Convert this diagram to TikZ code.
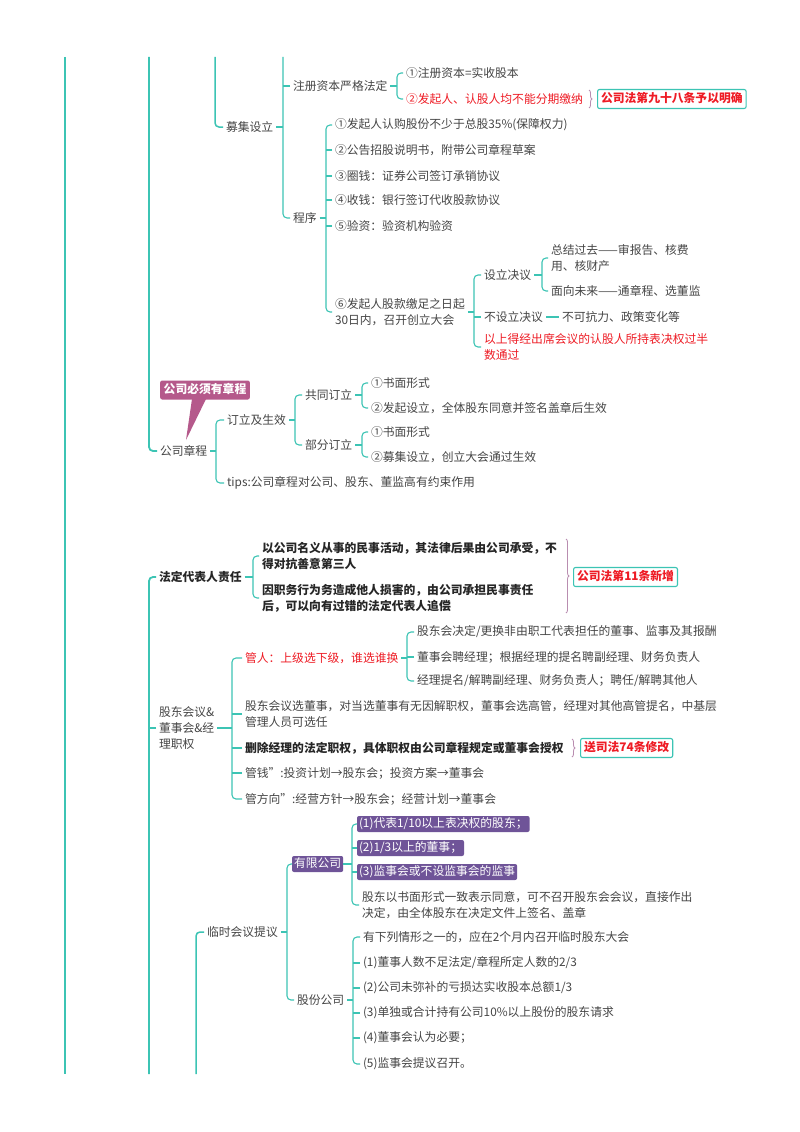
\documentclass[tikz,border=0pt]{standalone}
\usepackage{fontspec}
\setmainfont{Noto Sans CJK SC}
\definecolor{mapteal}{HTML}{3CC4B4}
\definecolor{mapink}{HTML}{454545}
\definecolor{mapred}{HTML}{EE1C25}
\definecolor{mappurple}{HTML}{6F5498}
\definecolor{mapmauve}{HTML}{B5598B}
\definecolor{mapbrace}{HTML}{B98DB0}
\usetikzlibrary{calc,decorations.pathreplacing}

\begin{document}
\begin{tikzpicture}[x=1pt,y=-1pt,
  topic/.style={anchor=west,inner sep=0pt,outer sep=3pt,align=left,text=mapink,font=\fontsize{11.8}{16}\selectfont},
  hot/.style={topic,text=mapred},
  strong/.style={topic,text=black!85,font=\fontsize{11.8}{16}\selectfont\bfseries},
  lawbox/.style={anchor=west,draw=mapteal,line width=1.1pt,rounded corners=2pt,fill=white,text=mapred,inner sep=3.5pt,text height=9.5pt,text depth=2.5pt,font=\fontsize{11.8}{16}\selectfont\bfseries},
  purplebox/.style={anchor=west,fill=mappurple,text=white,rounded corners=2pt,inner sep=2pt,outer sep=0pt,text height=9.5pt,text depth=2.5pt,font=\fontsize{11.8}{16}\selectfont},
  link/.style={draw=mapteal,line width=1.1pt,rounded corners=4pt},
  branch/.style={link,line width=1.5pt},
  trunk/.style={link,line width=1.8pt},
  rootline/.style={link,line width=2.2pt},
  sumbrace/.style={draw=mapbrace,line width=0.8pt,decorate,decoration={brace,amplitude=3pt}}]
\fill[white] (0,0) rectangle (800,1132);
\useasboundingbox (0,0) rectangle (800,1132);

\node[topic] (muji) at (223,127) {募集设立};
\node[topic] (zhuce) at (290,86) {注册资本严格法定};
\node[topic] (zhuce1) at (403,73) {①注册资本=实收股本};
\node[hot] (zhuce2) at (403,99) {②发起人、认股人均不能分期缴纳};
\node[lawbox] (law98) at (597,99) {公司法第九十八条予以明确};
\node[topic] (chengxu) at (290,218) {程序};
\node[topic] (cx1) at (332,125) {①发起人认购股份不少于总股35\%(保障权力)};
\node[topic] (cx2) at (332,150) {②公告招股说明书，附带公司章程草案};
\node[topic] (cx3) at (332,176) {③圈钱：证券公司签订承销协议};
\node[topic] (cx4) at (332,200) {④收钱：银行签订代收股款协议};
\node[topic] (cx5) at (332,226) {⑤验资：验资机构验资};
\node[topic] (cx6) at (332,312) {⑥发起人股款缴足之日起\\30日内，召开创立大会};
\node[topic] (sljy) at (481,275) {设立决议};
\node[topic] (bsljy) at (481,317) {不设立决议};
\node[hot] (tongguo) at (481,347) {以上得经出席会议的认股人所持表决权过半\\数通过};
\node[topic] (guoqu) at (548,258) {总结过去——审报告、核费\\用、核财产};
\node[topic] (weilai) at (548,291) {面向未来——通章程、选董监};
\node[topic] (buke) at (559,317) {不可抗力、政策变化等};

\fill[mapmauve] (192,399) -- (206,399) -- (186,440) -- cycle;
\node[fill=mapmauve,text=white,rounded corners=2pt,inner sep=3.5pt,text height=9.5pt,text depth=2.5pt,font=\fontsize{11.8}{16}\selectfont\bfseries] (bixu) at (205,390) {公司必须有章程};
\node[topic] (gszc) at (157,451) {公司章程};
\node[topic] (dlsx) at (224,420) {订立及生效};
\node[topic] (tips) at (224,483) {tips:公司章程对公司、股东、董监高有约束作用};
\node[topic] (gtdl) at (302,395) {共同订立};
\node[topic] (bfdl) at (302,445) {部分订立};
\node[topic] (gt1) at (368,383) {①书面形式};
\node[topic] (gt2) at (368,408) {②发起设立，全体股东同意并签名盖章后生效};
\node[topic] (bf1) at (368,432) {①书面形式};
\node[topic] (bf2) at (368,457) {②募集设立，创立大会通过生效};

\node[strong] (fddb) at (156,577) {法定代表人责任};
\node[strong] (fd1) at (259,556) {以公司名义从事的民事活动，其法律后果由公司承受，不\\得对抗善意第三人};
\node[strong] (fd2) at (259,598) {因职务行为务造成他人损害的，由公司承担民事责任\\后，可以向有过错的法定代表人追偿};
\node[lawbox] (law11) at (573,577) {公司法第11条新增};

\node[topic] (gdhy) at (156,728) {股东会议\&\\董事会\&经\\理职权};
\node[hot] (gr) at (242,658) {管人：上级选下级，谁选谁换};
\node[topic] (gr1) at (414,632) {股东会决定/更换非由职工代表担任的董事、监事及其报酬};
\node[topic] (gr2) at (414,657) {董事会聘经理；根据经理的提名聘副经理、财务负责人};
\node[topic] (gr3) at (414,681) {经理提名/解聘副经理、财务负责人；聘任/解聘其他人};
\node[topic] (gd2) at (242,714) {股东会议选董事，对当选董事有无因解职权，董事会选高管，经理对其他高管提名，中基层\\管理人员可选任};
\node[strong] (gd3) at (242,748) {删除经理的法定职权，具体职权由公司章程规定或董事会授权};
\node[lawbox] (law74) at (580,748) {送司法74条修改};
\node[topic] (gd4) at (242,773) {管钱":投资计划→股东会；投资方案→董事会};
\node[topic] (gd5) at (242,799) {管方向":经营方针→股东会；经营计划→董事会};

\node[topic] (lshy) at (204,932) {临时会议提议};
\node[purplebox] (ylgs) at (292,864) {有限公司};
\node[purplebox] (yl1) at (357,824) {(1)代表1/10以上表决权的股东；};
\node[purplebox] (yl2) at (357,848) {(2)1/3以上的董事；};
\node[purplebox] (yl3) at (357,872) {(3)监事会或不设监事会的监事};
\node[topic] (yl4) at (359,905) {股东以书面形式一致表示同意，可不召开股东会会议，直接作出\\决定，由全体股东在决定文件上签名、盖章};
\node[topic] (gfgs) at (294,1000) {股份公司};
\node[topic] (gf0) at (360,937) {有下列情形之一的，应在2个月内召开临时股东大会};
\node[topic] (gf1) at (360,963) {(1)董事人数不足法定/章程所定人数的2/3};
\node[topic] (gf2) at (360,988) {(2)公司未弥补的亏损达实收股本总额1/3};
\node[topic] (gf3) at (360,1013) {(3)单独或合计持有公司10\%以上股份的股东请求};
\node[topic] (gf4) at (360,1038) {(4)董事会认为必要；};
\node[topic] (gf5) at (360,1064) {(5)监事会提议召开。};

\coordinate (rootTop) at (65,57);
\coordinate (rootBot) at (65,1074);
\coordinate (trunkTop) at (149,57);
\coordinate (trunkBot) at (149,1074);
\coordinate (mujiTop) at (215,57);
\coordinate (mujiFork) at (283,57);
\coordinate (zhuceFork) at (397,0);
\coordinate (cxFork) at (326,0);
\coordinate (dahuiFork) at (474,0);
\coordinate (sljyFork) at (542,0);
\coordinate (gszcFork) at (216,0);
\coordinate (dlsxFork) at (295,0);
\coordinate (dlFork) at (362,0);
\coordinate (fdFork) at (253,0);
\coordinate (gdFork) at (232,0);
\coordinate (grFork) at (407,0);
\coordinate (lshyBot) at (196,1074);
\coordinate (lsFork) at (287,0);
\coordinate (ylFork) at (352,0);
\coordinate (gfFork) at (353,0);

\draw[rootline] (rootTop) -- (rootBot);
\draw[trunk] (trunkTop) |- (gszc.west);
\draw[branch] (mujiTop) |- (muji.west);
\draw[link] (mujiFork) |- (chengxu.west);
\draw[link] (muji.east) -- (muji.east -| mujiFork);
\draw[link] (zhuce.west) -- (zhuce.west -| mujiFork);
\draw[link] (zhuce.east) -- (zhuce.east -| zhuceFork);
\draw[link] (zhuce1.west) -| (zhuceFork |- zhuce2.west) -- (zhuce2.west);
\draw[link] (chengxu.east) -- (chengxu.east -| cxFork);
\draw[link] (cx1.west) -| (cxFork |- cx6.west) -- (cx6.west);
\foreach \k in {2,...,5}
  \draw[link] (cx\k.west) -- (cx\k.west -| cxFork);
\draw[link] (cx6.east) -- (cx6.east -| dahuiFork);
\draw[link] (sljy.west) -| (dahuiFork |- tongguo.west) -- (tongguo.west);
\draw[link] (bsljy.west) -- (bsljy.west -| dahuiFork);
\draw[link] (sljy.east) -- (sljy.east -| sljyFork);
\draw[link] (guoqu.west) -| (sljyFork |- weilai.west) -- (weilai.west);
\draw[link] (bsljy.east) -- (buke.west);

\draw[link] (gszc.east) -- (gszc.east -| gszcFork);
\draw[link] (dlsx.west) -| (gszcFork |- tips.west) -- (tips.west);
\draw[link] (dlsx.east) -- (dlsx.east -| dlsxFork);
\draw[link] (gtdl.west) -| (dlsxFork |- bfdl.west) -- (bfdl.west);
\draw[link] (gtdl.east) -- (gtdl.east -| dlFork);
\draw[link] (gt1.west) -| (dlFork |- gt2.west) -- (gt2.west);
\draw[link] (bfdl.east) -- (bfdl.east -| dlFork);
\draw[link] (bf1.west) -| (dlFork |- bf2.west) -- (bf2.west);

\draw[trunk] (fddb.west) -| (trunkBot);
\draw[trunk] (gdhy.west) -- (gdhy.west -| trunkBot);
\draw[link] (fddb.east) -- (fddb.east -| fdFork);
\draw[link] (fd1.west) -| (fdFork |- fd2.west) -- (fd2.west);
\draw[link] (gdhy.east) -- (gdhy.east -| gdFork);
\draw[link] (gr.west) -| (gdFork |- gd5.west) -- (gd5.west);
\foreach \k in {2,3,4}
  \draw[link] (gd\k.west) -- (gd\k.west -| gdFork);
\draw[link] (gr.east) -- (gr.east -| grFork);
\draw[link] (gr1.west) -| (grFork |- gr3.west) -- (gr3.west);
\draw[link] (gr2.west) -- (gr2.west -| grFork);

\draw[branch] (lshy.west) -| (lshyBot);
\draw[link] (lshy.east) -- (lshy.east -| lsFork);
\draw[link] (ylgs.west) -| (lsFork |- gfgs.west) -- (gfgs.west);
\draw[link] (ylgs.east) -- (ylgs.east -| ylFork);
\draw[link] (yl1.west) -| (ylFork |- yl4.west) -- (yl4.west);
\draw[link] (yl2.west) -- (yl2.west -| ylFork);
\draw[link] (yl3.west) -- (yl3.west -| ylFork);
\draw[link] (gfgs.east) -- (gfgs.east -| gfFork);
\draw[link] (gf0.west) -| (gfFork |- gf5.west) -- (gf5.west);
\foreach \k in {1,...,4}
  \draw[link] (gf\k.west) -- (gf\k.west -| gfFork);

\draw[sumbrace] (589,90) -- (589,108);
\draw[sumbrace] (566,539) -- (566,613);
\draw[sumbrace] (572,739) -- (572,757);
\end{tikzpicture}
\end{document}
